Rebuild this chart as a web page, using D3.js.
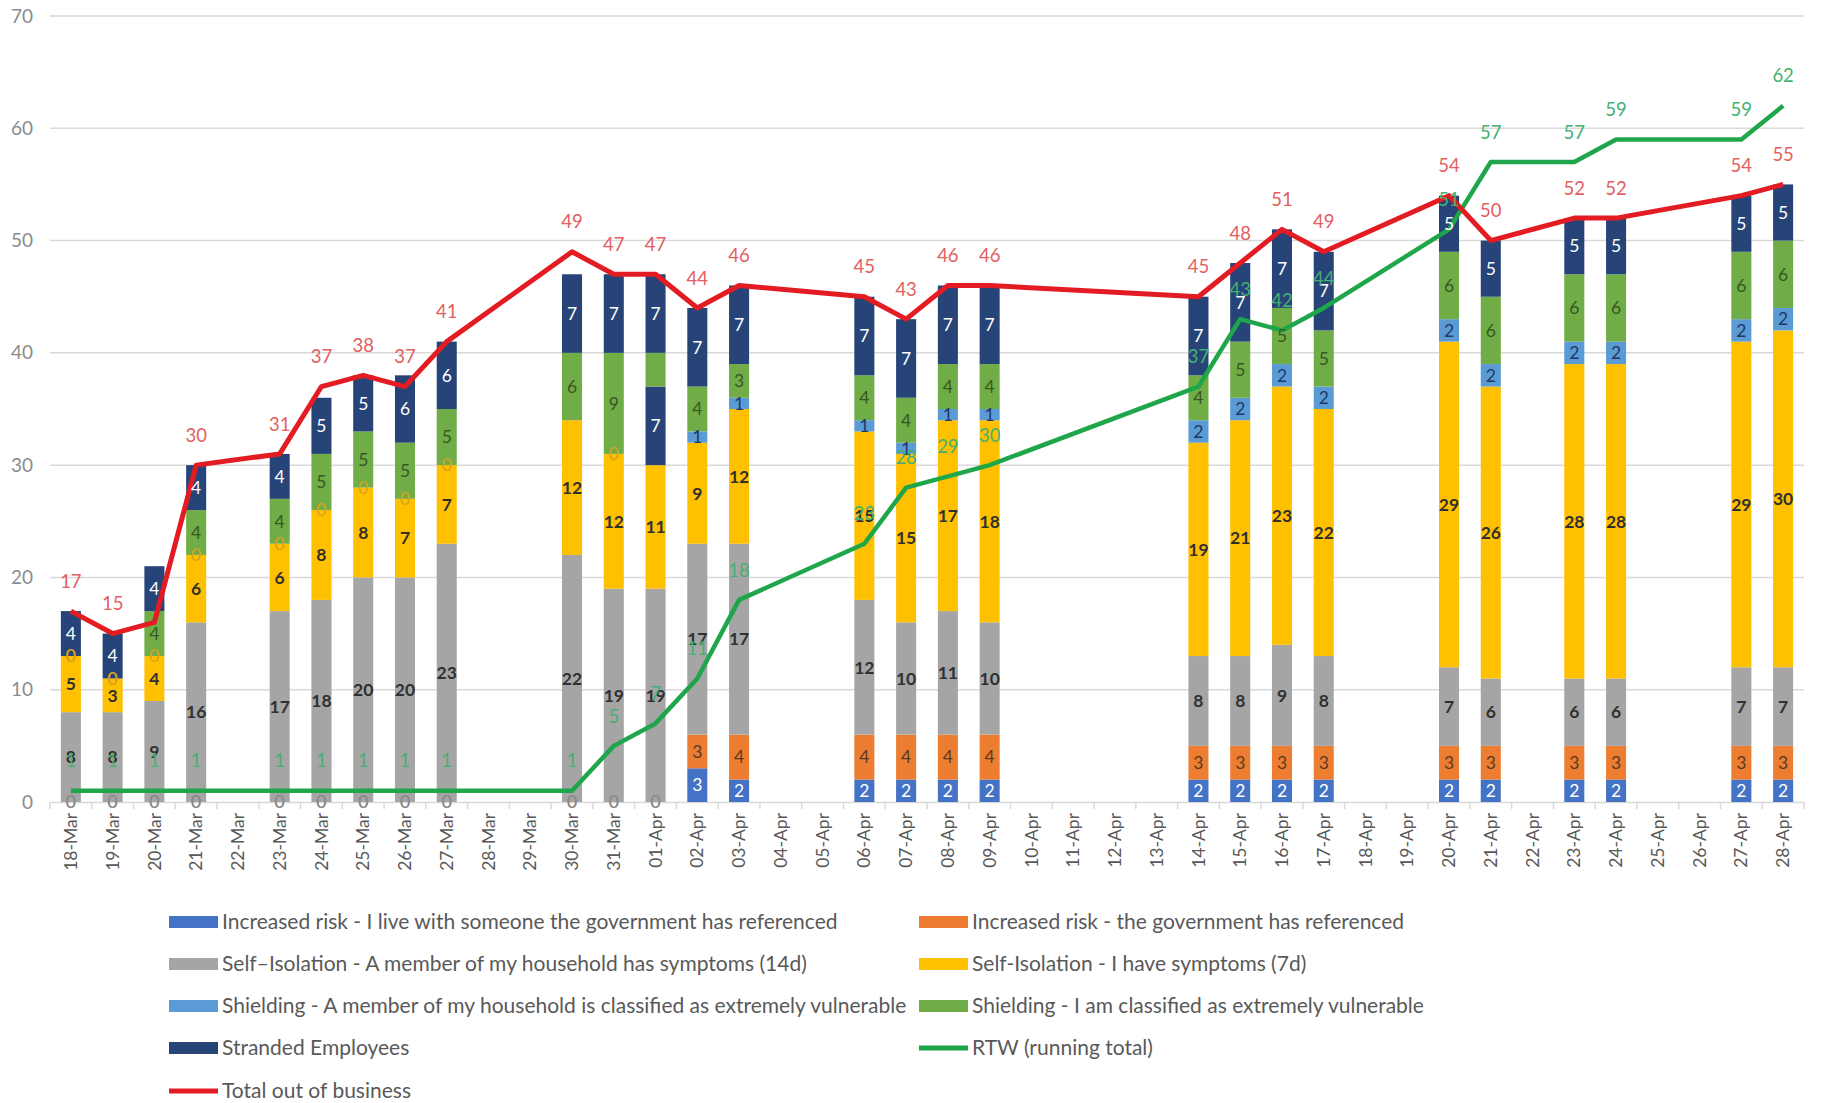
<!DOCTYPE html>
<html><head><meta charset="utf-8">
<script src="https://cdn.jsdelivr.net/npm/d3@7"></script>
<style>html,body{margin:0;padding:0;background:#fff;}svg{display:block;font-family:Lato,"Open Sans",sans-serif;}</style>
</head><body>
<svg id="chart" width="1825" height="1103"></svg>
<script>
// ---- Data ----
const allDates = ["18-Mar","19-Mar","20-Mar","21-Mar","22-Mar","23-Mar","24-Mar","25-Mar","26-Mar","27-Mar","28-Mar","29-Mar","30-Mar","31-Mar","01-Apr","02-Apr","03-Apr","04-Apr","05-Apr","06-Apr","07-Apr","08-Apr","09-Apr","10-Apr","11-Apr","12-Apr","13-Apr","14-Apr","15-Apr","16-Apr","17-Apr","18-Apr","19-Apr","20-Apr","21-Apr","22-Apr","23-Apr","24-Apr","25-Apr","26-Apr","27-Apr","28-Apr"];
const dataDates = ["18-Mar","19-Mar","20-Mar","21-Mar","23-Mar","24-Mar","25-Mar","26-Mar","27-Mar","30-Mar","31-Mar","01-Apr","02-Apr","03-Apr","06-Apr","07-Apr","08-Apr","09-Apr","14-Apr","15-Apr","16-Apr","17-Apr","20-Apr","21-Apr","23-Apr","24-Apr","27-Apr","28-Apr"];
const incRiskHousehold = [0,0,0,0,0,0,0,0,0,0,0,0,3,2,2,2,2,2,2,2,2,2,2,2,2,2,2,2];
const incRiskSelf      = [0,0,0,0,0,0,0,0,0,0,0,0,3,4,4,4,4,4,3,3,3,3,3,3,3,3,3,3];
const selfIsoHousehold = [8,8,9,16,17,18,20,20,23,22,19,19,17,17,12,10,11,10,8,8,9,8,7,6,6,6,7,7];
const selfIsoSymptoms  = [5,3,4,6,6,8,8,7,7,12,12,11,9,12,15,15,17,18,19,21,23,22,29,26,28,28,29,30];
const shieldHousehold  = [0,0,0,0,0,0,0,0,0,null,0,7,1,1,1,1,1,1,2,2,2,2,2,2,2,2,2,2];
const shieldSelf       = [0,0,4,4,4,5,5,5,5,6,9,3,4,3,4,4,4,4,4,5,5,5,6,6,6,6,6,6];
const stranded         = [4,4,4,4,4,5,5,6,6,7,7,7,7,7,7,7,7,7,7,7,7,7,5,5,5,5,5,5];
const rtwRunningTotal  = [1,1,1,1,1,1,1,1,1,1,5,7,11,18,23,28,29,30,37,43,42,44,51,57,57,59,59,62];
const totalOutOfBusiness = [17,15,16,30,31,37,38,37,41,49,47,47,44,46,45,43,46,46,45,48,51,49,54,50,52,52,54,55];
const totalLabels = ["17","15","","30","31","37","38","37","41","49","47","47","44","46","45","43","46","46","45","48","51","49","54","50","52","52","54","55"];
const yTicks = [0,10,20,30,40,50,60,70];

const barSeries = [
  {key:"incRiskHousehold", name:"Increased risk - I live with someone the government has referenced", values:incRiskHousehold, color:"#4472c4", label:"#ffffff", bold:false},
  {key:"incRiskSelf", name:"Increased risk - the government has referenced", values:incRiskSelf, color:"#ed7d31", label:"#5a3a22", bold:false},
  {key:"selfIsoHousehold", name:"Self\u2013Isolation - A member of my household has symptoms (14d)", values:selfIsoHousehold, color:"#a5a5a5", label:"#303030", bold:true},
  {key:"selfIsoSymptoms", name:"Self-Isolation - I have symptoms (7d)", values:selfIsoSymptoms, color:"#ffc000", label:"#303030", bold:true},
  {key:"shieldHousehold", name:"Shielding - A member of my household is classified as extremely vulnerable", values:shieldHousehold, color:"#5b9bd5", label:"#1f3864", bold:false},
  {key:"shieldSelf", name:"Shielding - I am classified as extremely vulnerable", values:shieldSelf, color:"#70ad47", label:"#385723", bold:false},
  {key:"stranded", name:"Stranded Employees", values:stranded, color:"#264478", label:"#ffffff", bold:false}
];
// 01-Apr: the household-shielding block is drawn in the stranded colour in the original
const navyOverride = {"shieldHousehold|01-Apr": true};

const lineSeries = [
  {name:"RTW (running total)", values:rtwRunningTotal, color:"#1fa64a", labelColor:"#45b073", labels:rtwRunningTotal.map(String)},
  {name:"Total out of business", values:totalOutOfBusiness, color:"#e31b23", labelColor:"#e2605f", labels:totalLabels}
];

// ---- Layout ----
const svg = d3.select("#chart");
const plotLeft = 50, plotRight = 1804, plotTop = 16, plotBottom = 802;
const x = d3.scaleBand().domain(allDates).range([plotLeft, plotRight]).paddingInner(0.52).paddingOuter(0.26);
const y = d3.scaleLinear().domain([0,70]).range([plotBottom, plotTop]);

// gridlines
svg.append("g").selectAll("line").data(yTicks.filter(d=>d>0)).join("line")
  .attr("x1", plotLeft).attr("x2", plotRight)
  .attr("y1", d=>y(d)).attr("y2", d=>y(d))
  .attr("stroke", "#d9d9d9").attr("stroke-width", 1.5);

// y-axis labels
const yAxis = d3.axisLeft(y).tickValues(yTicks).tickSize(0).tickPadding(0);
const yg = svg.append("g").attr("transform", `translate(33,0)`).call(yAxis);
yg.select(".domain").remove();
yg.selectAll("text").attr("font-size", 19).attr("fill", "#8c8c8c").attr("font-family","Lato,'Open Sans',sans-serif");

// x-axis
const xAxis = d3.axisBottom(x).tickSize(0).tickPadding(0);
const xg = svg.append("g").attr("transform", `translate(0,${plotBottom})`).call(xAxis);
xg.select(".domain").attr("stroke", "#d9d9d9").attr("stroke-width", 1.5);
xg.selectAll("text")
  .attr("transform", "rotate(-90)")
  .attr("text-anchor", "end")
  .attr("x", -11).attr("y", 0).attr("dy", "0.35em")
  .attr("font-size", 17.5).attr("fill", "#595959").attr("font-family","Lato,'Open Sans',sans-serif");
// category boundary ticks
const step = x.step();
const boundaries = allDates.map(d => x(d) + x.bandwidth()/2 - step/2).concat([x(allDates[allDates.length-1]) + x.bandwidth()/2 + step/2]);
svg.append("g").selectAll("line").data(boundaries).join("line")
  .attr("x1", d=>d).attr("x2", d=>d).attr("y1", plotBottom).attr("y2", plotBottom+7)
  .attr("stroke", "#d9d9d9").attr("stroke-width", 1.5);

// ---- Stacked bars ----
const rows = dataDates.map((d,i) => {
  const r = {date:d};
  barSeries.forEach(s => { r[s.key] = s.values[i] == null ? 0 : s.values[i]; });
  return r;
});
const stack = d3.stack().keys(barSeries.map(s=>s.key));
const stacked = stack(rows);

const barG = svg.append("g");
stacked.forEach((layer, li) => {
  const s = barSeries[li];
  barG.append("g").selectAll("rect").data(layer).join("rect")
    .attr("x", d => x(d.data.date))
    .attr("width", x.bandwidth())
    .attr("y", d => y(d[1]))
    .attr("height", d => y(d[0]) - y(d[1]))
    .attr("fill", d => navyOverride[s.key + "|" + d.data.date] ? barSeries[6].color : s.color);
});

// ---- Lines ----
const lineGen = d3.line().x(d => x(d.date) + x.bandwidth()/2).y(d => y(d.v));
lineSeries.forEach(ls => {
  const pts = dataDates.map((d,i) => ({date:d, v:ls.values[i]}));
  svg.append("path").datum(pts)
    .attr("d", lineGen).attr("fill","none")
    .attr("stroke", ls.color).attr("stroke-width", ls.name.startsWith("Total") ? 5 : 4.5)
    .attr("stroke-linejoin","round");
});

// ---- Bar labels ----
const labG = svg.append("g").attr("font-size", 17.5).attr("text-anchor","middle").attr("font-family","Lato,'Open Sans',sans-serif");
stacked.forEach((layer, li) => {
  const s = barSeries[li];
  layer.forEach((d, i) => {
    const raw = s.values[i];
    if (raw == null) return;
    if (s.key === "shieldSelf" && d.data.date === "01-Apr") return;
    const isNavy = navyOverride[s.key + "|" + d.data.date];
    let fill = isNavy ? "#ffffff" : s.label;
    if (raw === 0) fill = d[0] === 0 ? "#8a8a8a" : "#d6a21e";
    labG.append("text")
      .attr("x", x(d.data.date) + x.bandwidth()/2)
      .attr("y", y((d[0]+d[1])/2))
      .attr("dy", "0.36em")
      .attr("fill", fill)
      .attr("font-weight", s.bold ? 700 : 400)
      .text(raw);
  });
});

// ---- Line labels ----
lineSeries.forEach(ls => {
  svg.append("g").selectAll("text").data(dataDates).join("text")
    .attr("x", d => x(d) + x.bandwidth()/2)
    .attr("y", (d,i) => y(ls.values[i]) - 30)
    .attr("dy", "0.36em")
    .attr("text-anchor","middle")
    .attr("font-size", 18.5)
    .attr("fill", ls.labelColor)
    .text((d,i) => ls.labels[i]);
});

// ---- Legend ----
const legendItems = barSeries.map(s => ({name:s.name, color:s.color, type:"rect"}))
  .concat(lineSeries.map(l => ({name:l.name, color:l.color, type:"line"})));
const colX = [169, 919];
const rowY = [922, 964, 1006, 1048, 1091];
const lg = svg.append("g").attr("font-family","Lato,'Open Sans',sans-serif");
legendItems.forEach((it, i) => {
  const cx = colX[i % 2], cy = rowY[Math.floor(i/2)];
  if (it.type === "rect") {
    lg.append("rect").attr("x", cx).attr("y", cy-6).attr("width", 49).attr("height", 12).attr("fill", it.color);
  } else {
    lg.append("line").attr("x1", cx).attr("x2", cx+49).attr("y1", cy).attr("y2", cy)
      .attr("stroke", it.color).attr("stroke-width", 5);
  }
  lg.append("text").attr("x", cx+53).attr("y", cy).attr("dy","0.35em")
    .attr("font-size", 21).attr("fill", "#595959").text(it.name);
});
</script>
</body></html>
